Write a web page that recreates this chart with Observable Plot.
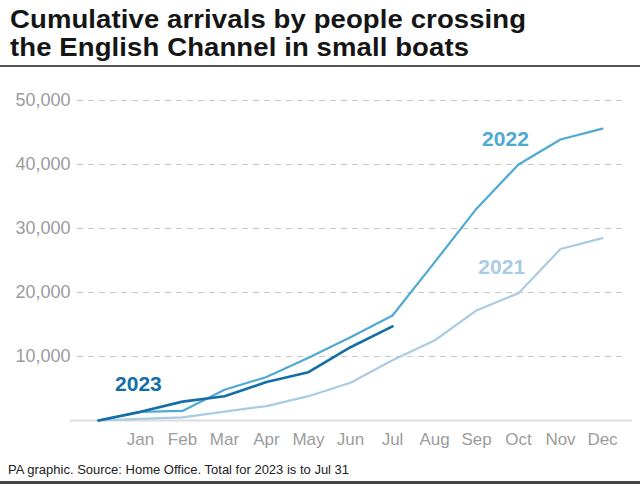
<!DOCTYPE html>
<html>
<head>
<meta charset="utf-8">
<script src="https://cdn.jsdelivr.net/npm/d3@7"></script>
<script src="https://cdn.jsdelivr.net/npm/@observablehq/plot@0.6"></script>
<style>
  html, body { margin: 0; padding: 0; background: #fff; }
  body { width: 640px; height: 486px; position: relative; overflow: hidden; font-family: "Liberation Sans", Arial, sans-serif; }
  .tl { position: absolute; left: 10px; font-family: "Liberation Sans", Arial, sans-serif; font-size: 25px; line-height: 28px; font-weight: bold; color: #151515; letter-spacing: 0.1px; white-space: nowrap; transform: scaleX(1.1); transform-origin: 0 0; }
  #t1 { top: 5px; }
  #t2 { top: 33px; }
  #rule1 { position: absolute; left: 0; top: 65px; width: 640px; height: 2px; background: #555; }
  #chart { position: absolute; left: 0; top: 68px; }
  #footer { position: absolute; left: 8px; top: 462px; font-size: 13px; color: #222; }
  #rule2 { position: absolute; left: 0; top: 481px; width: 640px; height: 3px; background: #444; }
</style>
</head>
<body>
<div class="tl" id="t1">Cumulative arrivals by people crossing</div>
<div class="tl" id="t2">the English Channel in small boats</div>
<div id="rule1"></div>
<div id="chart"></div>
<div id="footer">PA graphic. Source: Home Office. Total for 2023 is to Jul 31</div>
<div id="rule2"></div>
<script>
const months = ["Jan","Feb","Mar","Apr","May","Jun","Jul","Aug","Sep","Oct","Nov","Dec"];
const yTicks = [10000, 20000, 30000, 40000, 50000];
const v2021 = [0, 250, 500, 1400, 2250, 3800, 5900, 9400, 12500, 17200, 19900, 26800, 28500];
const v2022 = [0, 1350, 1500, 4800, 6800, 9800, 13000, 16400, 24700, 33100, 40000, 43900, 45600];
const v2023 = [0, 1350, 2950, 3800, 6000, 7550, 11450, 14700];
const seriesNames = ["2021", "2022", "2023"];
const seriesColors = ["#a9cce4", "#4ea9d3", "#136fa6"];
const labelPos = [
  {name: "2021", x: 9.6, y: 24000},
  {name: "2022", x: 9.69, y: 43900},
  {name: "2023", x: 0.95, y: 5600}
];

const toRows = (vals, name) => vals.map((v, i) => ({i, v, name}));
const rows = [...toRows(v2021, "2021"), ...toRows(v2022, "2022"), ...toRows(v2023, "2023")];
const color = name => seriesColors[seriesNames.indexOf(name)];

const chart = Plot.plot({
  width: 640,
  height: 390,
  marginLeft: 77,
  marginRight: 17,
  marginTop: 32,
  marginBottom: 38,
  style: {fontFamily: "'Liberation Sans', Arial, sans-serif", background: "#fff", overflow: "visible"},
  x: {domain: [-0.5, 12.5], ticks: d3.range(1, 13), tickFormat: d => months[d - 1]},
  y: {domain: [0, 50000], ticks: yTicks},
  marks: [
    Plot.gridY(yTicks, {stroke: "#c8c8c8", strokeOpacity: 1, strokeDasharray: "6,5", strokeWidth: 1}),
    Plot.ruleY([0], {stroke: "#dcdcdc", strokeWidth: 2, insetLeft: -7, insetRight: -9}),
    Plot.axisY(yTicks, {tickSize: 0, tickPadding: 7, tickFormat: d3.format(","), fontSize: 18, fill: "#9c9c9c"}),
    Plot.axisX(d3.range(1, 13), {tickSize: 0, tickPadding: 12, tickFormat: d => months[d - 1], fontSize: 17, fill: "#9c9c9c"}),
    Plot.line(rows.filter(d => d.name === "2021"), {x: "i", y: "v", stroke: color("2021"), strokeWidth: 2.2}),
    Plot.line(rows.filter(d => d.name === "2022"), {x: "i", y: "v", stroke: color("2022"), strokeWidth: 2.2}),
    Plot.line(rows.filter(d => d.name === "2023"), {x: "i", y: "v", stroke: color("2023"), strokeWidth: 2.6}),
    Plot.text(labelPos, {x: "x", y: "y", text: "name", fill: d => color(d.name), fontSize: 21, fontWeight: "bold", textAnchor: "middle"})
  ]
});
document.getElementById("chart").appendChild(chart);
</script>
</body>
</html>
